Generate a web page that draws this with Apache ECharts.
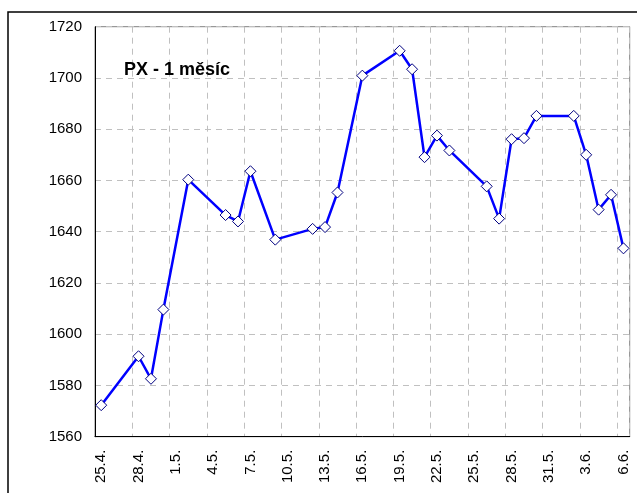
<!DOCTYPE html>
<html>
<head>
<meta charset="utf-8">
<script src="https://cdn.jsdelivr.net/npm/echarts@6/dist/echarts.min.js"></script>
<style>
  html, body { margin: 0; padding: 0; background: #fff; }
  #chart { width: 637px; height: 493px; }
</style>
</head>
<body>
<div id="chart"></div>
<script>
// one category per calendar day, 25.4. - 6.6.
const days = [
    "25.4.", "26.4.", "27.4.", "28.4.", "29.4.", "30.4.",
    "1.5.", "2.5.", "3.5.", "4.5.", "5.5.", "6.5.", "7.5.", "8.5.", "9.5.", "10.5.",
    "11.5.", "12.5.", "13.5.", "14.5.", "15.5.", "16.5.", "17.5.", "18.5.", "19.5.", "20.5.",
    "21.5.", "22.5.", "23.5.", "24.5.", "25.5.", "26.5.", "27.5.", "28.5.", "29.5.", "30.5.",
    "31.5.", "1.6.", "2.6.", "3.6.", "4.6.", "5.6.", "6.6."
];

// PX index close, null = no trading that day
const px = [
    1572.3, null, null, 1591.4, 1582.6, 1609.6,
    null, 1660.3, null, null, 1646.5, 1644.0, 1663.6, null, 1636.9, null,
    null, 1641.1, 1641.8, 1655.3, null, 1700.9, null, null, 1710.6, 1703.4,
    1669.1, 1677.5, 1671.7, null, null, 1657.7, 1645.1, 1676.1, 1676.5, 1685.2,
    null, null, 1685.2, 1670.0, 1648.6, 1654.4, 1633.5
];

const FONT = "Liberation Sans, Arial, sans-serif";
const GRID_LINE = { color: "#c0c0c0", width: 1, type: [6, 5] };

const chart = echarts.init(document.getElementById("chart"), null, { renderer: "canvas" });

chart.setOption({
    animation: false,
    backgroundColor: "#fff",
    title: {
        text: "PX - 1 měsíc",
        left: 124,
        top: 61,
        padding: 0,
        textStyle: { fontFamily: FONT, fontSize: 18, fontWeight: "bold", color: "#000" }
    },
    graphic: [
        {
            type: "rect",
            shape: { x: 8, y: 12, width: 660, height: 520 },
            style: { fill: null, stroke: "#000", lineWidth: 1.5 },
            silent: true
        }
    ],
    grid: {
        left: 95,
        top: 26.7,
        right: 7.3,
        bottom: 56.3,
        show: true,
        borderColor: "#808080",
        borderWidth: 1
    },
    xAxis: {
        type: "category",
        data: days,
        boundaryGap: true,
        axisLine: { show: true, lineStyle: { color: "#000", width: 1 } },
        axisTick: { show: false, interval: 2 },
        axisLabel: {
            interval: 2,
            rotate: 90,
            margin: 13,
            fontFamily: FONT,
            fontSize: 15,
            color: "#000"
        },
        splitLine: { show: true, interval: 2, lineStyle: GRID_LINE }
    },
    yAxis: {
        type: "value",
        min: 1560,
        max: 1720,
        interval: 20,
        axisLine: { show: true, lineStyle: { color: "#000", width: 1 } },
        axisTick: { show: false },
        axisLabel: {
            margin: 13,
            fontFamily: FONT,
            fontSize: 15,
            color: "#000",
            formatter: (v) => String(v)
        },
        splitLine: { show: true, lineStyle: GRID_LINE }
    },
    series: [
        {
            type: "line",
            data: px,
            connectNulls: true,
            symbol: "diamond",
            symbolSize: 11,
            showAllSymbol: true,
            lineStyle: { color: "#0000ff", width: 2.5 },
            itemStyle: { color: "#fff", borderColor: "#000080", borderWidth: 1 },
            z: 3
        }
    ]
});
</script>
</body>
</html>
